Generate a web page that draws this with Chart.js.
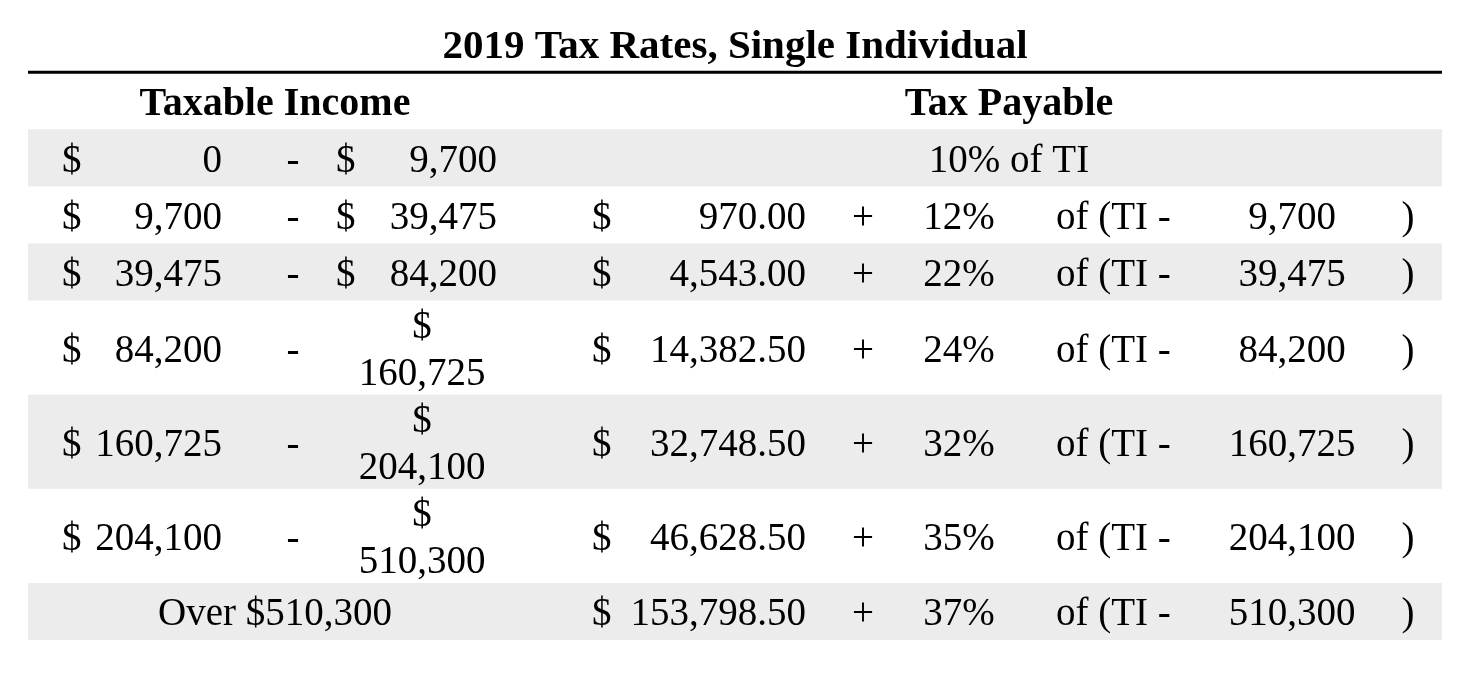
<!DOCTYPE html>
<html>
<head>
<meta charset="utf-8">
<title>2019 Tax Rates, Single Individual</title>
<script src="https://cdn.jsdelivr.net/npm/chart.js@4.4.1/dist/chart.umd.min.js"></script>
<style>
  html, body { margin: 0; padding: 0; background: #fff; }
  #wrap { width: 1472px; height: 680px; position: relative; }
</style>
</head>
<body>
<div id="wrap"><canvas id="taxChart"></canvas></div>
<script>
// Bracket data
const incomeFrom = [0, 9700, 39475, 84200, 160725, 204100, 510300];
const incomeTo = [9700, 39475, 84200, 160725, 204100, 510300, null];
const baseTax = [null, 970, 4543, 14382.5, 32748.5, 46628.5, 153798.5];
const rates = [10, 12, 22, 24, 32, 35, 37];
const headers = ['Taxable Income', 'Tax Payable'];
const titleText = '2019 Tax Rates, Single Individual';

// Layout, in table units (x runs across the table, y runs down it)
const tableWidth = 1414;
const rowBase = 57;     // height of a one-line row
const rowExtra = 37;    // added per extra line
const lineGap = 47;     // distance between wrapped lines
const baselineShift = 14;
const cols = {
    incomeMid: 247,
    fromDollar: 34,
    fromNum: 194,
    dash: 265,
    toDollar: 308,
    toNum: 469,
    toMid: 394,
    payMid: 981,
    baseDollar: 564,
    baseNum: 778,
    plus: 835,
    rate: 931,
    ofTI: 1028,
    minus: 1264,
    paren: 1380
};
const shade = '#ececec';
const bodyFont = '39px "Liberation Serif", "Times New Roman", serif';
const boldFont = 'bold 40px "Liberation Serif", "Times New Roman", serif';

const fmtInt = n => n.toLocaleString('en-US');
const fmtMoney = n => n.toLocaleString('en-US', { minimumFractionDigits: 2, maximumFractionDigits: 2 });

// Upper bounds of six digits wrap inside their narrow column
const rows = [{ top: 0, h: rowBase }];
incomeFrom.forEach((v, i) => {
    const wrap = incomeTo[i] !== null && incomeTo[i] >= 100000;
    const prev = rows[rows.length - 1];
    rows.push({ top: prev.top + prev.h, h: rowBase + (wrap ? rowExtra : 0), wrap });
});
const tableHeight = rows[rows.length - 1].top + rows[rows.length - 1].h;

const tablePlugin = {
    id: 'taxTable',
    beforeDatasetsDraw(chart) {
        const { ctx, scales: { x, y } } = chart;
        const px = v => x.getPixelForValue(v);
        const py = v => y.getPixelForValue(v);

        ctx.save();

        // Shaded bands on alternate brackets
        ctx.fillStyle = shade;
        rows.slice(1).forEach((r, i) => {
            if (i % 2 === 0) {
                ctx.fillRect(px(0), py(r.top), px(tableWidth) - px(0), py(r.top + r.h) - py(r.top));
            }
        });

        // Rule under the title
        ctx.strokeStyle = '#000';
        ctx.lineWidth = 3;
        ctx.beginPath();
        ctx.moveTo(px(0), py(0));
        ctx.lineTo(px(tableWidth), py(0));
        ctx.stroke();

        ctx.fillStyle = '#000';
        const text = (s, col, yv, align) => {
            ctx.textAlign = align;
            ctx.fillText(s, px(col), py(yv) + baselineShift);
        };

        // Header row
        ctx.font = boldFont;
        ctx.textBaseline = 'alphabetic';
        const hMid = rows[0].top + rows[0].h / 2;
        text(headers[0], cols.incomeMid, hMid, 'center');
        text(headers[1], cols.payMid, hMid, 'center');

        // Brackets
        ctx.font = bodyFont;
        incomeFrom.forEach((from, i) => {
            const r = rows[i + 1];
            const mid = r.top + r.h / 2;

            if (incomeTo[i] === null) {
                text('Over $' + fmtInt(from), cols.incomeMid, mid, 'center');
            } else {
                text('$', cols.fromDollar, mid, 'left');
                text(fmtInt(from), cols.fromNum, mid, 'right');
                text('-', cols.dash, mid, 'center');
                if (r.wrap) {
                    text('$', cols.toMid, mid - lineGap / 2, 'center');
                    text(fmtInt(incomeTo[i]), cols.toMid, mid + lineGap / 2, 'center');
                } else {
                    text('$', cols.toDollar, mid, 'left');
                    text(fmtInt(incomeTo[i]), cols.toNum, mid, 'right');
                }
            }

            if (baseTax[i] === null) {
                text(rates[i] + '% of TI', cols.payMid, mid, 'center');
            } else {
                text('$', cols.baseDollar, mid, 'left');
                text(fmtMoney(baseTax[i]), cols.baseNum, mid, 'right');
                text('+', cols.plus, mid, 'center');
                text(rates[i] + '%', cols.rate, mid, 'center');
                text('of (TI -', cols.ofTI, mid, 'left');
                text(fmtInt(from), cols.minus, mid, 'center');
                text(')', cols.paren, mid, 'center');
            }
        });

        ctx.restore();
    }
};

const ctx = document.getElementById('taxChart').getContext('2d');
const taxChart = new Chart(ctx, {
    type: 'scatter',
    data: { datasets: [{ data: [], pointRadius: 0 }] },
    options: {
        responsive: true,
        maintainAspectRatio: false,
        animation: false,
        events: [],
        layout: { padding: { left: 28, right: 30, top: 0, bottom: 40 } },
        scales: {
            x: { type: 'linear', min: 0, max: tableWidth, display: false },
            y: { type: 'linear', min: 0, max: tableHeight, reverse: true, display: false }
        },
        plugins: {
            legend: { display: false },
            tooltip: { enabled: false },
            title: {
                display: true,
                text: titleText,
                color: '#000',
                font: { family: '"Liberation Serif", "Times New Roman", serif', size: 41, weight: 'bold', lineHeight: 1.15 },
                padding: { top: 24, bottom: 1 }
            }
        }
    },
    plugins: [tablePlugin]
});
</script>
</body>
</html>
